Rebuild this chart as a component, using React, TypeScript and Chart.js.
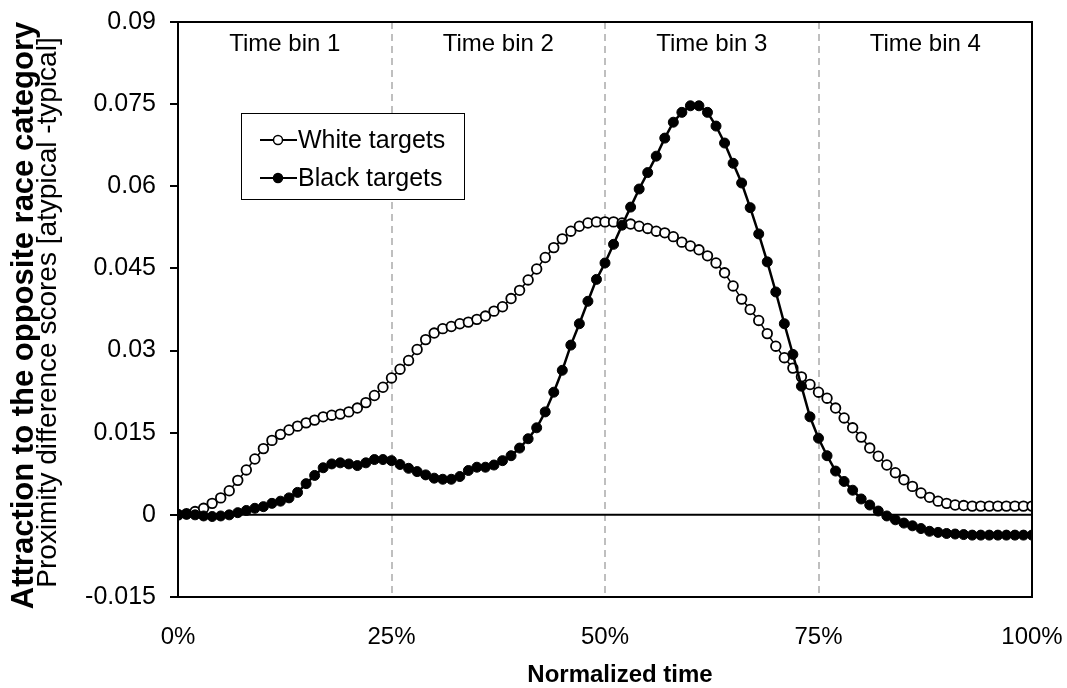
import React, { useEffect, useRef } from "react";
import { Chart, registerables } from "chart.js";

Chart.register(...registerables);

// Normalized time steps (percent of trajectory)
const timeSteps: number[] = Array.from({ length: 101 }, (_, i) => i);

const whiteTargets: number[] = [
  0.0000, 0.0002, 0.0006, 0.0012, 0.0021, 0.0031, 0.0044, 0.0063, 0.0082, 0.0102,
  0.0121, 0.0136, 0.0147, 0.0155, 0.0162, 0.0168, 0.0173, 0.0179, 0.0182, 0.0184,
  0.0188, 0.0195, 0.0205, 0.0218, 0.0233, 0.0250, 0.0266, 0.0282, 0.0302, 0.0320,
  0.0332, 0.0340, 0.0344, 0.0349, 0.0352, 0.0357, 0.0363, 0.0372, 0.0380, 0.0395,
  0.0410, 0.0429, 0.0449, 0.0470, 0.0488, 0.0504, 0.0518, 0.0527, 0.0533, 0.0535,
  0.0535, 0.0535, 0.0533, 0.0531, 0.0527, 0.0523, 0.0518, 0.0515, 0.0508, 0.0498,
  0.0491, 0.0484, 0.0473, 0.0460, 0.0442, 0.0418, 0.0394, 0.0375, 0.0355, 0.0331,
  0.0308, 0.0287, 0.0268, 0.0252, 0.0238, 0.0224, 0.0213, 0.0195, 0.0177, 0.0159,
  0.0142, 0.0122, 0.0107, 0.0091, 0.0077, 0.0064, 0.0052, 0.0040, 0.0032, 0.0025,
  0.0021, 0.0018, 0.0017, 0.0016, 0.0016, 0.0016, 0.0016, 0.0016, 0.0016, 0.0016,
  0.0016,
];

const blackTargets: number[] = [
  0.0001, 0.0001, 0.0000, -0.0002, -0.0003, -0.0002, 0.0000, 0.0004, 0.0008, 0.0012,
  0.0015, 0.0021, 0.0025, 0.0031, 0.0041, 0.0057, 0.0072, 0.0086, 0.0093, 0.0095,
  0.0093, 0.0090, 0.0095, 0.0101, 0.0101, 0.0099, 0.0092, 0.0085, 0.0079, 0.0073,
  0.0067, 0.0065, 0.0065, 0.0070, 0.0081, 0.0087, 0.0087, 0.0091, 0.0099, 0.0108,
  0.0122, 0.0139, 0.0159, 0.0188, 0.0224, 0.0264, 0.0310, 0.0349, 0.0390, 0.0430,
  0.0460, 0.0494, 0.0529, 0.0562, 0.0595, 0.0625, 0.0655, 0.0688, 0.0717, 0.0735,
  0.0747, 0.0747, 0.0735, 0.0710, 0.0679, 0.0642, 0.0606, 0.0561, 0.0513, 0.0462,
  0.0407, 0.0349, 0.0293, 0.0235, 0.0179, 0.0140, 0.0108, 0.0080, 0.0061, 0.0045,
  0.0029, 0.0018, 0.0007, -0.0002, -0.0009, -0.0015, -0.0020, -0.0025, -0.0030, -0.0032,
  -0.0034, -0.0035, -0.0036, -0.0037, -0.0037, -0.0037, -0.0037, -0.0037, -0.0037, -0.0037,
  -0.0037,
];

const binLabels: string[] = ["Time bin 1", "Time bin 2", "Time bin 3", "Time bin 4"];
const binEdges: number[] = [0, 25, 50, 75, 100];
const seriesNames: string[] = ["White targets", "Black targets"];
const yTitleMain = "Attraction to the opposite race category";
const yTitleSub = "Proximity difference scores [atypical -typical]";
const xTitle = "Normalized time";

const FONT = "'Liberation Sans', Arial, Helvetica, sans-serif";

const decorPlugin = {
  id: "decor",
  beforeDatasetsDraw(chart: any) {
    const { ctx, chartArea, scales } = chart;
    const xs = scales.x;
    const ys = scales.y;
    ctx.save();
    // dashed bin separators
    ctx.strokeStyle = "#bfbfbf";
    ctx.lineWidth = 2;
    ctx.setLineDash([7, 5]);
    for (let i = 1; i < binEdges.length - 1; i++) {
      const px = Math.round(xs.getPixelForValue(binEdges[i]));
      ctx.beginPath();
      ctx.moveTo(px, chartArea.top);
      ctx.lineTo(px, chartArea.bottom);
      ctx.stroke();
    }
    ctx.setLineDash([]);
    // zero line
    const y0 = ys.getPixelForValue(0);
    ctx.strokeStyle = "#000";
    ctx.lineWidth = 2;
    ctx.beginPath();
    ctx.moveTo(chartArea.left, y0);
    ctx.lineTo(chartArea.right, y0);
    ctx.stroke();
    // bin labels
    ctx.fillStyle = "#000";
    ctx.font = `24px ${FONT}`;
    ctx.textAlign = "center";
    ctx.textBaseline = "middle";
    for (let i = 0; i < binLabels.length; i++) {
      const cx = (xs.getPixelForValue(binEdges[i]) + xs.getPixelForValue(binEdges[i + 1])) / 2;
      ctx.fillText(binLabels[i], cx, chartArea.top + 22);
    }
    ctx.restore();
  },
  afterDatasetsDraw(chart: any) {
    const { ctx, chartArea } = chart;
    ctx.save();
    // plot frame
    ctx.strokeStyle = "#000";
    ctx.lineWidth = 2;
    ctx.strokeRect(chartArea.left, chartArea.top, chartArea.right - chartArea.left, chartArea.bottom - chartArea.top);

    // legend
    const lx = 241.5, ly = 113.5, lw = 223, lh = 86;
    ctx.fillStyle = "#fff";
    ctx.fillRect(lx, ly, lw, lh);
    ctx.lineWidth = 1;
    ctx.strokeRect(lx, ly, lw, lh);
    const rows = [140, 178];
    ctx.font = `25px ${FONT}`;
    ctx.textAlign = "left";
    ctx.textBaseline = "middle";
    rows.forEach((ry, i) => {
      ctx.strokeStyle = "#000";
      ctx.lineWidth = 2;
      ctx.beginPath();
      ctx.moveTo(260, ry);
      ctx.lineTo(297, ry);
      ctx.stroke();
      ctx.beginPath();
      ctx.arc(278, ry, 4.5, 0, Math.PI * 2);
      ctx.fillStyle = i === 0 ? "#fff" : "#000";
      ctx.fill();
      ctx.lineWidth = 1.5;
      ctx.stroke();
      ctx.fillStyle = "#000";
      ctx.fillText(seriesNames[i], 298, ry + 1);
    });

    // axis titles
    const cy = (chartArea.top + chartArea.bottom) / 2;
    ctx.fillStyle = "#000";
    ctx.textAlign = "center";
    ctx.textBaseline = "middle";
    ctx.save();
    ctx.translate(24, cy + 6);
    ctx.rotate(-Math.PI / 2);
    ctx.font = `bold 31px ${FONT}`;
    ctx.fillText(yTitleMain, 0, 0);
    ctx.restore();
    ctx.save();
    ctx.translate(48, cy + 3);
    ctx.rotate(-Math.PI / 2);
    ctx.font = `28px ${FONT}`;
    ctx.fillText(yTitleSub, 0, 0);
    ctx.restore();
    ctx.font = `bold 24px ${FONT}`;
    ctx.fillText(xTitle, 620, 675);
    ctx.restore();
  },
};

export default function App() {
  const canvasRef = useRef<HTMLCanvasElement | null>(null);

  useEffect(() => {
    if (!canvasRef.current) return;
    const chart = new Chart(canvasRef.current, {
      type: "line",
      data: {
        datasets: [
          {
            label: seriesNames[1],
            data: timeSteps.map((t, i) => ({ x: t, y: blackTargets[i] })),
            borderColor: "#000",
            borderWidth: 2.5,
            backgroundColor: "#000",
            pointRadius: 5,
            pointBorderWidth: 1,
            pointBorderColor: "#000",
            pointBackgroundColor: "#000",
            tension: 0,
            order: 1,
          },
          {
            label: seriesNames[0],
            data: timeSteps.map((t, i) => ({ x: t, y: whiteTargets[i] })),
            borderColor: "#000",
            borderWidth: 1.5,
            backgroundColor: "#fff",
            pointRadius: 4.8,
            pointBorderWidth: 1.8,
            pointBorderColor: "#000",
            pointBackgroundColor: "#fff",
            tension: 0,
            order: 2,
          },
        ],
      },
      options: {
        animation: false,
        responsive: false,
        layout: { padding: { left: 0, right: 35, top: 22, bottom: 0 } },
        plugins: {
          legend: { display: false },
          tooltip: { enabled: false },
        },
        scales: {
          x: {
            type: "linear",
            min: 0,
            max: 100,
            ticks: {
              stepSize: 25,
              color: "#000",
              font: { family: FONT, size: 24 },
              padding: 26,
              maxRotation: 0,
              callback: (v: any) => `${v}%`,
            },
            grid: { drawOnChartArea: false, drawTicks: true, tickLength: 0, color: "#000" },
            border: { display: true, color: "#000", width: 2 },
            afterFit: (s: any) => {
              s.height = 91;
              s.paddingLeft = 0;
              s.paddingRight = 0;
            },
          },
          y: {
            type: "linear",
            min: -0.015,
            max: 0.09,
            ticks: {
              stepSize: 0.015,
              color: "#000",
              font: { family: FONT, size: 25 },
              padding: 14,
              callback: (v: any) => `${parseFloat(Number(v).toFixed(3))}`,
            },
            grid: { drawOnChartArea: false, drawTicks: true, tickLength: 8, color: "#000", lineWidth: 2 },
            border: { display: true, color: "#000", width: 2 },
            afterFit: (s: any) => {
              s.width = 178;
              s.paddingTop = 0;
              s.paddingBottom = 0;
            },
          },
        },
      },
      plugins: [decorPlugin],
    });
    return () => chart.destroy();
  }, []);

  return (
    <div style={{ position: "absolute", left: 0, top: 0, width: 1067, height: 688, background: "#fff" }}>
      <canvas ref={canvasRef} width={1067} height={688} />
    </div>
  );
}
